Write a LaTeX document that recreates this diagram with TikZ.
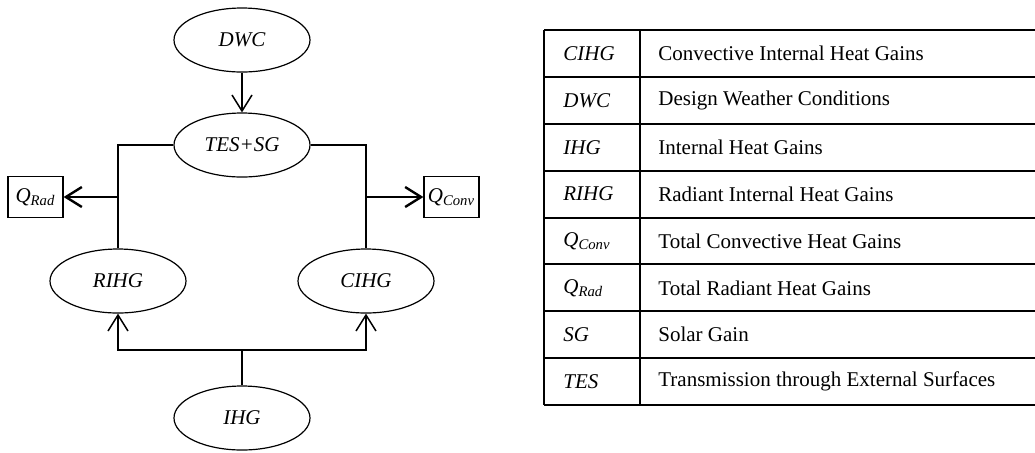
\documentclass[tikz,border=0pt]{standalone}
\usepackage{fontspec}
\setmainfont{Liberation Serif}
\usepackage{tikz}
\usetikzlibrary{shapes.geometric, arrows.meta, positioning}
\newcommand{\qsym}[1]{\textit{Q}\textsubscript{\textit{#1}}}
\tikzset{
    gain/.style={ellipse, draw, line width=0.6pt, minimum width=68pt, minimum height=32pt, inner sep=0pt, font=\fontsize{10.5}{12}\selectfont\itshape},
    total/.style={rectangle, draw, line width=0.6pt, minimum width=27.5pt, minimum height=20.5pt, inner sep=1pt, font=\fontsize{10.5}{12}\selectfont},
    link/.style={line width=0.75pt},
    flow/.style={-{Straight Barb[length=8pt, width=10pt]}, line width=0.75pt},
    bigflow/.style={-{Straight Barb[length=8pt, width=10pt]}, line width=1.2pt},
    cell/.style={anchor=west, inner sep=0pt, font=\fontsize{10.5}{12}\selectfont}
}
\begin{document}
\begin{tikzpicture}[x=0.5pt, y=-0.5pt]
    \useasboundingbox (0,0) rectangle (1035,452);
    % Gain nodes
    \node[gain] (dwc) at (242,40) {DWC};
    \node[gain] (tessg) at (242,145) {TES+SG};
    \node[gain] (rihg) at (118,281) {RIHG};
    \node[gain] (cihg) at (366,281) {CIHG};
    \node[gain] (ihg) at (242,418) {IHG};

    % Totals
    \node[total] (qrad) at (35.5,197) {\qsym{Rad}};
    \node[total] (qconv) at (451.5,197) {\qsym{Conv}};

    % Connections
    \draw[flow] (dwc) -- (tessg);
    \draw[link] (tessg.west) -| (rihg.north);
    \draw[link] (tessg.east) -| (cihg.north);
    \coordinate (radtap) at (rihg.north |- qrad.east);
    \coordinate (convtap) at (cihg.north |- qconv.west);
    \draw[bigflow] (radtap) -- (qrad);
    \draw[bigflow] (convtap) -- (qconv);
    \coordinate (split) at (242,350);
    \draw[link] (ihg) -- (split);
    \draw[flow] (split) -| (rihg.south);
    \draw[flow] (split) -| (cihg.south);

    % Abbreviation table
    \foreach \i in {0,...,8}
        \draw[line width=1pt] (544,30+46.875*\i) -- (1035,30+46.875*\i);
    \draw[line width=1pt] (544,30) -- (544,405);
    \draw[line width=1pt] (640,30) -- (640,405);
    \foreach \abbr/\desc [count=\i] in {
        CIHG/Convective Internal Heat Gains,
        DWC/Design Weather Conditions,
        IHG/Internal Heat Gains,
        RIHG/Radiant Internal Heat Gains,
        \qsym{Conv}/Total Convective Heat Gains,
        \qsym{Rad}/Total Radiant Heat Gains,
        SG/Solar Gain,
        TES/Transmission through External Surfaces}
    {
        \node[cell, font=\fontsize{10.5}{12}\selectfont\itshape] (abbr\i) at (563,30+46.875*\i-23.4) {\abbr};
        \node[cell] (desc\i) at (658,30+46.875*\i-23.4) {\desc};
    }
\end{tikzpicture}
\end{document}
